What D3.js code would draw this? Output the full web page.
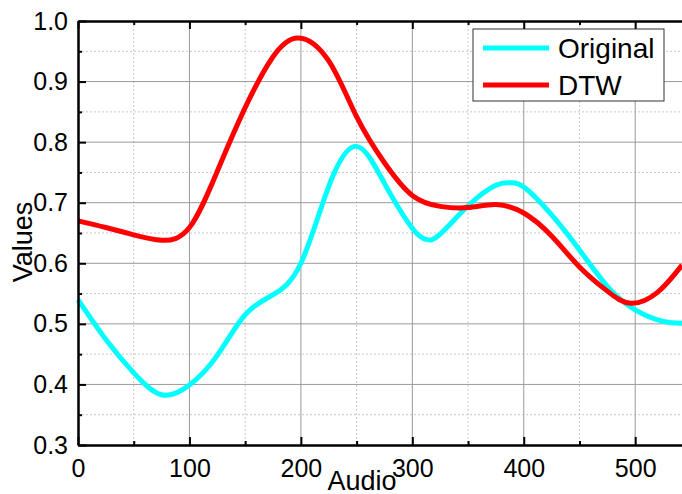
<!DOCTYPE html>
<html>
<head>
<meta charset="utf-8">
<script src="https://cdn.jsdelivr.net/npm/d3@7"></script>
<style>
  body { margin: 0; background: #fff; }
  svg { display: block; font-family: "Liberation Sans", Arial, sans-serif; }
</style>
</head>
<body>
<div id="chart"></div>
<script>
// values, [audio index, value]
const originalData = [
    [0, 0.54], [25, 0.474], [50, 0.419], [75, 0.383], [100, 0.399], [125, 0.448],
    [150, 0.515], [175, 0.548], [200, 0.60], [225, 0.727], [250, 0.793], [275, 0.732],
    [300, 0.658], [313, 0.639], [325, 0.648], [350, 0.695], [375, 0.729], [388, 0.733],
    [400, 0.726], [425, 0.68], [450, 0.622], [475, 0.562], [500, 0.523], [525, 0.504],
    [542, 0.501]
];
const dtwData = [
    [0, 0.67], [25, 0.659], [50, 0.647], [75, 0.638], [100, 0.659], [125, 0.752],
    [150, 0.857], [175, 0.941], [198, 0.972], [225, 0.934], [250, 0.842], [275, 0.766],
    [300, 0.712], [325, 0.694], [350, 0.692], [375, 0.697], [400, 0.683], [425, 0.645],
    [450, 0.594], [475, 0.554], [496, 0.534], [520, 0.552], [542, 0.597]
];
const seriesNames = ["Original", "DTW"];
const seriesColors = ["#00ffff", "#ff0000"];
const xMajorTicks = [0, 100, 200, 300, 400, 500];
const xMinorTicks = [50, 150, 250, 350, 450];
const yMajorTicks = [0.3, 0.4, 0.5, 0.6, 0.7, 0.8, 0.9, 1.0];
const yMinorTicks = [0.35, 0.45, 0.55, 0.65, 0.75, 0.85, 0.95];

const margin = { top: 21, right: 0, bottom: 49, left: 78 };
const width = 682 - margin.left - margin.right;
const height = 494 - margin.top - margin.bottom;

const svg = d3.select("#chart").append("svg")
    .attr("width", 682)
    .attr("height", 494);

const g = svg.append("g")
    .attr("transform", `translate(${margin.left},${margin.top})`);

const x = d3.scaleLinear().domain([0, 542]).range([0, width]);
const y = d3.scaleLinear().domain([0.3, 1.0]).range([height, 0]);

// grid lines
g.selectAll(".gx-minor").data(xMinorTicks).enter().append("line")
    .attr("x1", d => x(d)).attr("x2", d => x(d))
    .attr("y1", 0).attr("y2", height)
    .attr("stroke", "#c8c8c8").attr("stroke-dasharray", "2,2");
g.selectAll(".gy-minor").data(yMinorTicks).enter().append("line")
    .attr("y1", d => y(d)).attr("y2", d => y(d))
    .attr("x1", 0).attr("x2", width)
    .attr("stroke", "#c8c8c8").attr("stroke-dasharray", "2,2");
g.selectAll(".gx-major").data(xMajorTicks.slice(1)).enter().append("line")
    .attr("x1", d => x(d)).attr("x2", d => x(d))
    .attr("y1", 0).attr("y2", height)
    .attr("stroke", "#9a9a9a");
g.selectAll(".gy-major").data(yMajorTicks.slice(1, -1)).enter().append("line")
    .attr("y1", d => y(d)).attr("y2", d => y(d))
    .attr("x1", 0).attr("x2", width)
    .attr("stroke", "#9a9a9a");

// curves
const line = d3.line()
    .x(d => x(d[0]))
    .y(d => y(d[1]))
    .curve(d3.curveNatural);

g.append("path").datum(originalData)
    .attr("fill", "none").attr("stroke", seriesColors[0])
    .attr("stroke-width", 5).attr("d", line);
g.append("path").datum(dtwData)
    .attr("fill", "none").attr("stroke", seriesColors[1])
    .attr("stroke-width", 5).attr("d", line);

// axes (ticks pointing inward)
function styleAxis(sel) {
    sel.select(".domain").attr("stroke", "#000").attr("stroke-width", 2);
    sel.selectAll(".tick line").attr("stroke", "#000").attr("stroke-width", 2);
    sel.selectAll("text").attr("fill", "#000").style("font-size", "25px");
}

const xAxis = g.append("g").attr("transform", `translate(0,${height})`)
    .call(d3.axisBottom(x).tickValues(xMajorTicks).tickSize(-8).tickPadding(14)
        .tickFormat(d3.format("d")).tickSizeOuter(0));
styleAxis(xAxis);
const xMinor = g.append("g").attr("transform", `translate(0,${height})`)
    .call(d3.axisBottom(x).tickValues(xMinorTicks).tickSize(-4).tickFormat("").tickSizeOuter(0));
styleAxis(xMinor);

const xTop = g.append("g")
    .call(d3.axisTop(x).tickValues(xMajorTicks).tickSize(-8).tickFormat("").tickSizeOuter(0));
styleAxis(xTop);
const xTopMinor = g.append("g")
    .call(d3.axisTop(x).tickValues(xMinorTicks).tickSize(-4).tickFormat("").tickSizeOuter(0));
styleAxis(xTopMinor);

const yAxis = g.append("g")
    .call(d3.axisLeft(y).tickValues(yMajorTicks).tickSize(-8).tickPadding(10)
        .tickFormat(d3.format(".1f")).tickSizeOuter(0));
styleAxis(yAxis);
const yMinor = g.append("g")
    .call(d3.axisLeft(y).tickValues(yMinorTicks).tickSize(-4).tickFormat("").tickSizeOuter(0));
styleAxis(yMinor);

// axis titles
svg.append("text")
    .attr("x", 362).attr("y", 490)
    .attr("text-anchor", "middle")
    .style("font-size", "27px")
    .text("Audio");
svg.append("text")
    .attr("transform", "translate(32,242) rotate(-90)")
    .attr("text-anchor", "middle")
    .style("font-size", "27px")
    .text("Values");

// legend
const legend = svg.append("g").attr("transform", "translate(473,29)");
legend.append("rect")
    .attr("width", 191).attr("height", 72)
    .attr("fill", "#fff").attr("stroke", "#333").attr("stroke-width", 1);
seriesNames.forEach((name, i) => {
    const ly = 19 + i * 37;
    legend.append("line")
        .attr("x1", 10).attr("x2", 76)
        .attr("y1", ly).attr("y2", ly)
        .attr("stroke", seriesColors[i]).attr("stroke-width", 5);
    legend.append("text")
        .attr("x", 85).attr("y", ly + 10)
        .style("font-size", "28px")
        .text(name);
});
</script>
</body>
</html>
